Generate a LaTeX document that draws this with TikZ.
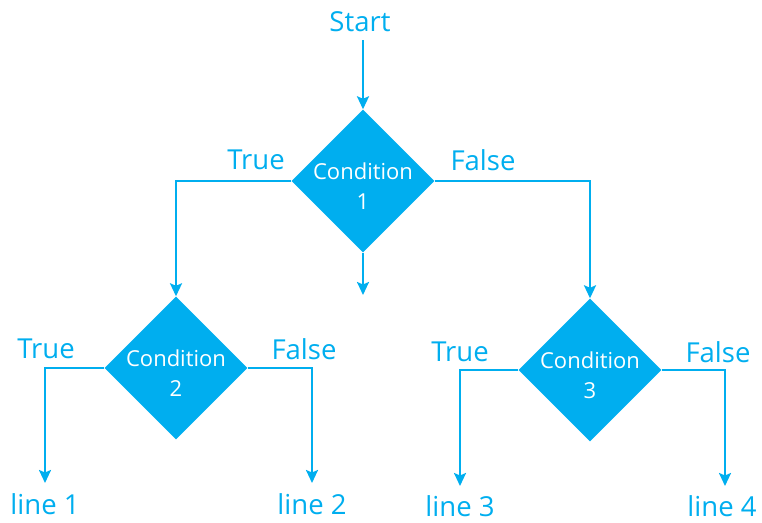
\documentclass[tikz,border=0pt]{standalone}
\usepackage{fontspec}
\setmainfont{Open Sans}
\usetikzlibrary{shapes.geometric,arrows.meta}
\definecolor{fc}{HTML}{00AEEF}
\begin{document}
\begin{tikzpicture}[x=1pt,y=-1pt,
  dec/.style={diamond,fill=fc,draw=none,minimum width=143pt,minimum height=143pt,inner sep=0pt},
  dtxt/.style={align=center,text=white,font=\fontsize{22}{30}\selectfont,inner sep=0pt},
  lbl/.style={text=fc,font=\fontsize{27.5}{30}\selectfont,inner sep=0pt},
  conn/.style={draw=fc,line width=2.3pt,-{Stealth[length=13pt,width=12pt,inset=2.5pt]}}
]
\useasboundingbox (0,0) rectangle (762,522);
\node[lbl] (start) at (360,22) {Start};
\coordinate (s0) at (363,40);
\node[dec] (c1) at (363,181) {};
\node[dtxt] (c1t) at ([yshift=-5pt]c1.center) {Condition\\1};
\node[dec] (c2) at (176,368) {};
\node[dtxt] (c2t) at ([yshift=-5pt]c2.center) {Condition\\2};
\node[dec] (c3) at (590,370) {};
\node[dtxt] (c3t) at ([yshift=-5pt]c3.center) {Condition\\3};
\coordinate (down) at (363,295);
\node[lbl] (l1) at (45,504) {line 1};
\node[lbl] (l2) at (312,504) {line 2};
\node[lbl] (l3) at (460,506) {line 3};
\node[lbl] (l4) at (722,506) {line 4};
\coordinate (e1) at (45,483);
\coordinate (e2) at (312,483);
\coordinate (e3) at (460,486);
\coordinate (e4) at (725,486);
\node[lbl] (t1) at (256,160) {True};
\node[lbl] (f1) at (483,160) {False};
\node[lbl] (t2) at (46,349) {True};
\node[lbl] (f2) at (304,349) {False};
\node[lbl] (t3) at (460,352) {True};
\node[lbl] (f3) at (718,352) {False};
\draw[conn] (s0) -- (c1.north);
\draw[conn] (c1.south) -- (down);
\draw[conn] (c1.west) -| (c2.north);
\draw[conn] (c1.east) -| (c3.north);
\draw[conn] (c2.west) -| (e1);
\draw[conn] (c2.east) -| (e2);
\draw[conn] (c3.west) -| (e3);
\draw[conn] (c3.east) -| (e4);
\end{tikzpicture}
\end{document}
